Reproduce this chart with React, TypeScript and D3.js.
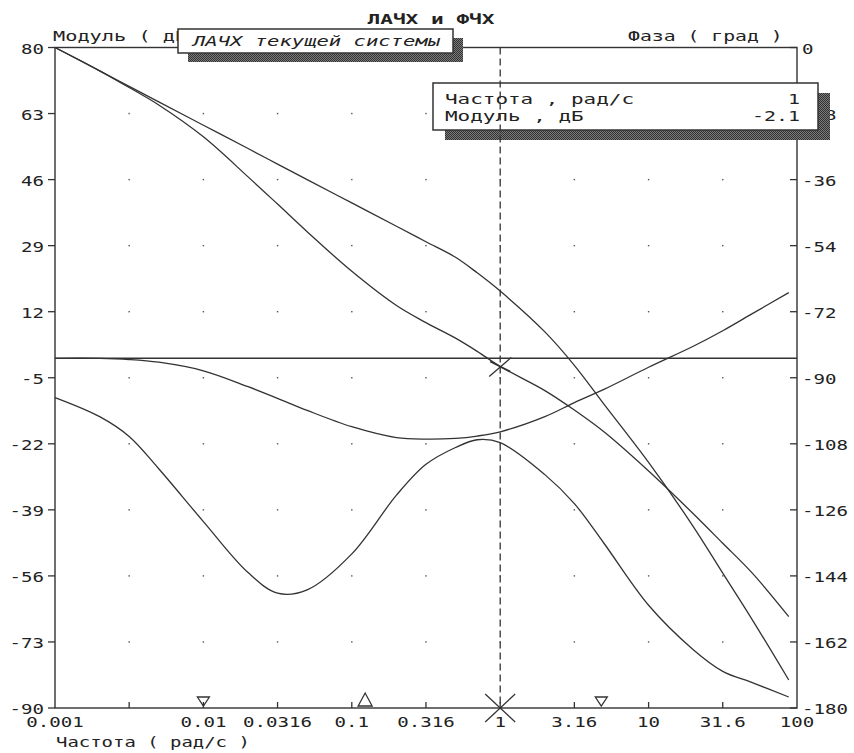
import React from 'react';
import * as d3 from 'd3';

// частоты, рад/с
const freq = [0.001, 0.002, 0.00316, 0.005, 0.01, 0.02, 0.0316, 0.05, 0.1, 0.2, 0.316, 0.5, 0.7, 1, 2, 3.16, 5, 10, 20, 31.6, 50, 88];
// ЛАЧХ текущей системы, дБ
const magCurrent = [80, 74, 69.7, 65.2, 57, 46.7, 39.7, 32.6, 22.4, 13.6, 9.2, 5.2, 1.8, -2.1, -8.3, -13.3, -18.9, -29, -40, -47.6, -55.3, -66.5];
// ЛАЧХ исходной системы, дБ
const magBase = [80, 74, 70, 66, 60, 54, 50, 46, 40, 34, 30, 26, 22, 17.3, 6.8, -1.8, -11.8, -26.8, -43.3, -55.3, -67.3, -82.8];
// ЛАЧХ корректора, дБ
const magCorrector = [0, 0, -0.3, -1, -3.2, -7.3, -10.3, -13.4, -17.6, -20.4, -20.8, -20.6, -20, -18.9, -15, -11.4, -8, -2.3, 3.1, 7.1, 11.5, 16.9];
// ФЧХ текущей системы, град
const phaseCurrent = [-95.4, -100.6, -106, -114.8, -129.2, -143.1, -148.7, -147.8, -138, -122, -113.6, -109, -106.9, -107.7, -116.4, -124.3, -135.1, -152, -164.1, -170, -173.1, -177];

const freqTicks = [0.00316, 0.01, 0.0316, 0.1, 0.316, 1, 3.16, 10, 31.6];
const freqLabels = [0.001, 0.01, 0.0316, 0.1, 0.316, 1, 3.16, 10, 31.6, 100];
const magTicks = [80, 63, 46, 29, 12, -5, -22, -39, -56, -73, -90];
const phaseTicks = [0, -18, -36, -54, -72, -90, -108, -126, -144, -162, -180];
const markDown = [0.01, 4.8];
const markUp = [0.123];
const cursorFreq = 1;
const cursorMag = -2.1;

const W = 854, H = 753;
const L = 55, R = 797, T = 47.5, B = 708;
const INK = '#333';
const FONT = "'DejaVu Sans Mono', monospace";

const x = d3.scaleLog().domain([0.001, 100]).range([L, R]);
const yMag = d3.scaleLinear().domain([-90, 80]).range([B, T]);
const yPh = d3.scaleLinear().domain([-180, 0]).range([B, T]);

const magLine = d3.line<number>()
  .x((_, i) => x(freq[i]))
  .y(d => yMag(d))
  .curve(d3.curveCatmullRom.alpha(0.5));
const phLine = d3.line<number>()
  .x((_, i) => x(freq[i]))
  .y(d => yPh(d))
  .curve(d3.curveCatmullRom.alpha(0.5));

// растянутый текст под "досовский" шрифт
const Txt = ({ x, y, s, cw = 11.5, anchor = 'start', size = 14.5, bold = false, italic = false }: any) => (
  <text x={x} y={y} textLength={s.length * cw} lengthAdjust="spacingAndGlyphs"
    textAnchor={anchor} dominantBaseline="central" fontFamily={FONT} fontSize={size}
    fontWeight={bold ? 'bold' : 'normal'} fontStyle={italic ? 'italic' : 'normal'} fill="#222">
    {s}
  </text>
);

const ShadowBox = ({ x0, y0, x1, y1, dx, dy }: any) => (
  <g>
    <rect x={x0 + dx} y={y0 + dy} width={x1 - x0} height={y1 - y0} fill="url(#dither)" />
    <rect x={x0} y={y0} width={x1 - x0} height={y1 - y0} fill="#fff" stroke={INK} strokeWidth={1.5} />
  </g>
);

export default function App() {
  const gridX = freqTicks;
  const gridY = magTicks.slice(1, -1);
  const cx = x(cursorFreq);
  const cy = yMag(cursorMag);

  return (
    <svg width={W} height={H} style={{ position: 'absolute', left: 0, top: 0, background: '#fff' }}>
      <defs>
        <pattern id="dither" width={2} height={2} patternUnits="userSpaceOnUse">
          <rect width={2} height={2} fill="#7a7a7a" />
          <rect width={1} height={1} fill="#333" />
          <rect x={1} y={1} width={1} height={1} fill="#333" />
        </pattern>
      </defs>

      {/* рамка */}
      <rect x={L} y={T} width={R - L} height={B - T} fill="none" stroke={INK} strokeWidth={1.4} />

      {/* точки сетки */}
      {gridX.map(f => gridY.map(v => (
        <rect key={`${f}_${v}`} x={x(f) - 0.7} y={yMag(v) - 0.7} width={1.4} height={1.4} fill="#555" />
      )))}

      {/* линия 0 дБ */}
      <line x1={L} x2={R} y1={yMag(0)} y2={yMag(0)} stroke={INK} strokeWidth={1.5} />

      {/* кривые */}
      <path d={magLine(magBase) || ''} fill="none" stroke={INK} strokeWidth={1.3} />
      <path d={magLine(magCorrector) || ''} fill="none" stroke={INK} strokeWidth={1.3} />
      <path d={magLine(magCurrent) || ''} fill="none" stroke={INK} strokeWidth={1.3} />
      <path d={phLine(phaseCurrent) || ''} fill="none" stroke={INK} strokeWidth={1.3} />

      {/* деления осей */}
      {magTicks.map(v => (
        <g key={`m${v}`}>
          <line x1={L - 7} x2={L} y1={yMag(v)} y2={yMag(v)} stroke={INK} strokeWidth={1.3} />
          <Txt x={44} y={yMag(v) + 1} s={String(v)} anchor="end" />
        </g>
      ))}
      {phaseTicks.map(v => (
        <g key={`p${v}`}>
          <line x1={R - 7} x2={R} y1={yPh(v)} y2={yPh(v)} stroke={INK} strokeWidth={1.3} />
          <Txt x={802} y={yPh(v) + 1} s={String(v)} />
        </g>
      ))}
      {freqTicks.map(f => (
        <line key={`f${f}`} x1={x(f)} x2={x(f)} y1={B} y2={B - 6} stroke={INK} strokeWidth={1.3} />
      ))}
      {freqLabels.map(f => (
        <Txt key={`fl${f}`} x={x(f)} y={722} s={String(f)} anchor="middle" />
      ))}

      {/* подписи осей */}
      <Txt x={53} y={36} s="Модуль ( дБ )" cw={12.2} />
      <Txt x={628} y={36} s="Фаза ( град )" cw={11.9} />
      <Txt x={56} y={742} s="Частота ( рад/с )" cw={11.4} />
      <Txt x={431} y={19} s="ЛАЧХ и ФЧХ" cw={12.7} anchor="middle" bold />

      {/* окно заголовка */}
      <ShadowBox x0={178} y0={29} x1={453} y1={53} dx={10} dy={9} />
      <Txt x={193} y={41} s="ЛАЧХ текущей системы" cw={12.35} italic />

      {/* окно курсора */}
      <ShadowBox x0={433} y0={83} x1={818} y1={130} dx={12} dy={10} />
      <Txt x={445} y={99} s="Частота , рад/с" cw={12.6} />
      <Txt x={445} y={116} s="Модуль , дБ" cw={12.6} />
      <Txt x={800} y={99} s={String(cursorFreq)} cw={12} anchor="end" />
      <Txt x={800} y={116} s={String(cursorMag)} cw={12} anchor="end" />

      {/* курсор */}
      <line x1={cx} x2={cx} y1={T} y2={B} stroke={INK} strokeWidth={1.3} strokeDasharray="7 4" />
      <line x1={cx - 15} x2={cx + 15} y1={B - 14} y2={B + 14} stroke={INK} strokeWidth={1.3} />
      <line x1={cx - 15} x2={cx + 15} y1={B + 14} y2={B - 14} stroke={INK} strokeWidth={1.3} />
      <line x1={cx - 11} x2={cx + 11} y1={cy + 10} y2={cy - 9} stroke={INK} strokeWidth={1.3} />
      <line x1={cx - 10} x2={cx + 10} y1={cy - 5} y2={cy + 5} stroke={INK} strokeWidth={1.8} />

      {/* маркеры */}
      {markDown.map(f => (
        <path key={`d${f}`} d={`M${x(f) - 6},${B - 11}L${x(f) + 6},${B - 11}L${x(f)},${B - 2}Z`}
          fill="none" stroke={INK} strokeWidth={1.3} />
      ))}
      {markUp.map(f => (
        <path key={`u${f}`} d={`M${x(f) - 7},${B - 2}L${x(f) + 7},${B - 2}L${x(f)},${B - 15}Z`}
          fill="none" stroke={INK} strokeWidth={1.3} />
      ))}
    </svg>
  );
}
